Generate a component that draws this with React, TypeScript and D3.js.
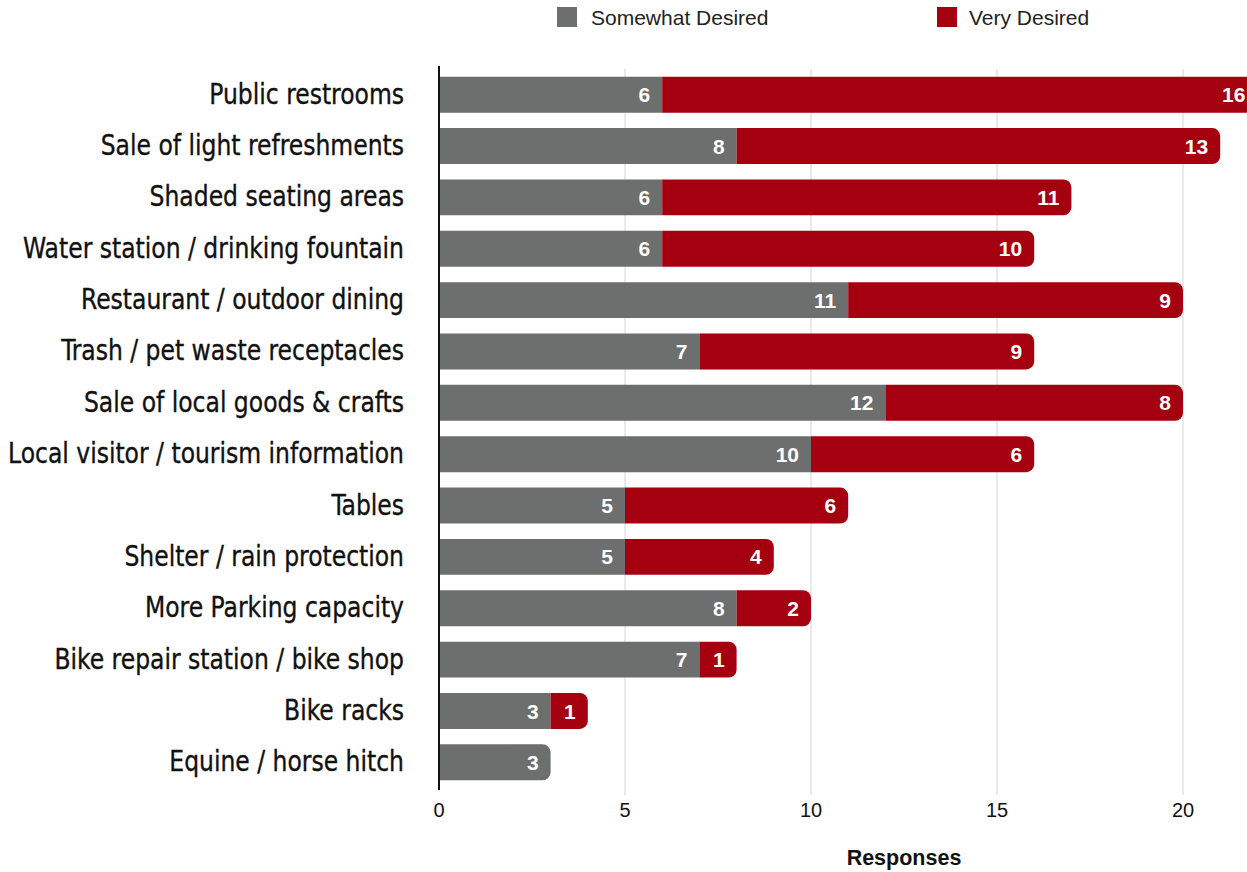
import React from "react";
import * as d3 from "d3";

const categories = [
  "Public restrooms",
  "Sale of light refreshments",
  "Shaded seating areas",
  "Water station / drinking fountain",
  "Restaurant / outdoor dining",
  "Trash / pet waste receptacles",
  "Sale of local goods & crafts",
  "Local visitor / tourism information",
  "Tables",
  "Shelter / rain protection",
  "More Parking capacity",
  "Bike repair station / bike shop",
  "Bike racks",
  "Equine / horse hitch",
];
const somewhatDesired = [6, 8, 6, 6, 11, 7, 12, 10, 5, 5, 8, 7, 3, 3];
const veryDesired = [16, 13, 11, 10, 9, 9, 8, 6, 6, 4, 2, 1, 1, 0];
const xTicks = [0, 5, 10, 15, 20];
const seriesNames = ["Somewhat Desired", "Very Desired"];

const GRAY = "#6d6e6e";
const RED = "#a4000f";

function barPath(x0: number, x1: number, y: number, h: number, rRight: number) {
  const r = Math.min(rRight, (x1 - x0), h / 2);
  if (r <= 0) return `M${x0},${y}H${x1}V${y + h}H${x0}Z`;
  return `M${x0},${y}H${x1 - r}A${r},${r} 0 0 1 ${x1},${y + r}V${y + h - r}A${r},${r} 0 0 1 ${x1 - r},${y + h}H${x0}Z`;
}

export default function App() {
  const W = 1247, H = 872;
  const x = d3.scaleLinear().domain([0, 20]).range([439, 1183]);
  const y = d3.scaleBand().domain(categories).range([69, 788]).paddingInner(0.3).paddingOuter(0.15);
  const bh = y.bandwidth();
  const labelFont = "'DejaVu Sans Condensed', 'DejaVu Sans', sans-serif";
  const helv = "'Liberation Sans', Arial, Helvetica, sans-serif";
  return (
    <svg width={W} height={H} style={{ position: "absolute", left: 0, top: 0, background: "#fff" }}>
      {/* legend */}
      <rect x={557} y={7} width={20} height={20} fill={GRAY} />
      <text x={591} y={25} fontFamily={helv} fontSize={21} fill="#222">{seriesNames[0]}</text>
      <rect x={937} y={7} width={20} height={20} fill={RED} />
      <text x={969} y={25} fontFamily={helv} fontSize={21} fill="#222">{seriesNames[1]}</text>

      {/* grid */}
      {xTicks.slice(1).map((t) => (
        <line key={t} x1={x(t)} x2={x(t)} y1={69} y2={795} stroke="#d4d4d4" strokeWidth={1} />
      ))}

      {/* bars */}
      {categories.map((c, i) => {
        const yy = y(c)!;
        const s = somewhatDesired[i];
        const v = veryDesired[i];
        const xs0 = x(0), xs1 = x(s), xv1 = x(s + v);
        const cy = yy + bh / 2;
        return (
          <g key={c}>
            <path d={barPath(xs0, xs1, yy, bh, v > 0 ? 0 : 8)} fill={GRAY} />
            {v > 0 && <path d={barPath(xs1, xv1, yy, bh, 8)} fill={RED} />}
            <text x={xs1 - 12} y={cy} dy="0.36em" textAnchor="end" fontFamily={helv} fontWeight="bold" fontSize={21} fill="#fff">{s}</text>
            {v > 0 && (
              <text x={xv1 - 12} y={cy} dy="0.36em" textAnchor="end" fontFamily={helv} fontWeight="bold" fontSize={21} fill="#fff">{v}</text>
            )}
            <text transform={`translate(404,${cy + 9}) scale(0.9,1)`} textAnchor="end" fontFamily={labelFont} fontSize={29} fill="#111" stroke="#111" strokeWidth={0.35} style={{ fontStretch: "condensed" }}>{c}</text>
          </g>
        );
      })}

      {/* axis line */}
      <line x1={x(0)} x2={x(0)} y1={66} y2={790} stroke="#111" strokeWidth={2} />
      {xTicks.map((t) => (
        <text key={t} x={x(t)} y={817} textAnchor="middle" fontFamily={helv} fontSize={20} fill="#111">{t}</text>
      ))}
      <text x={904} y={865} textAnchor="middle" fontFamily={helv} fontWeight="bold" fontSize={21.5} fill="#111">Responses</text>
    </svg>
  );
}
